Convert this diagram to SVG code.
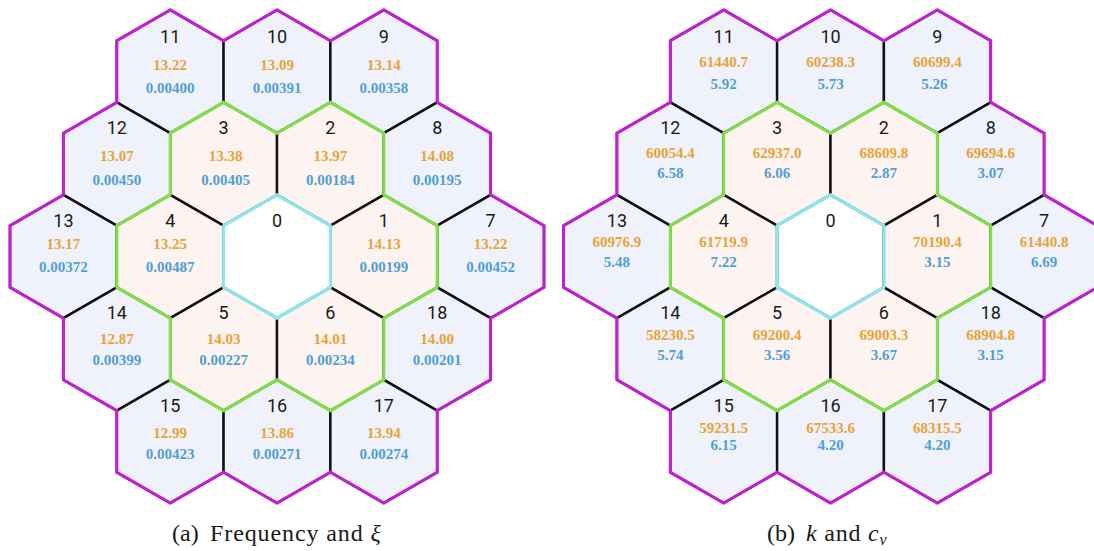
<svg xmlns="http://www.w3.org/2000/svg" xmlns:xlink="http://www.w3.org/1999/xlink" width="1094" height="551" viewBox="0 0 1094 551">
<style>
.outer{fill:#f0f2fb;stroke:#111;stroke-width:2.4}
.inner{fill:#fdf3f1;stroke:#111;stroke-width:2.4}
.center{fill:#ffffff;stroke:#111;stroke-width:2.4}
.num{font-family:Roboto,"Liberation Sans",sans-serif;font-size:18px;fill:#1a1a1a;text-anchor:middle}
.v1{font-family:"Liberation Serif",serif;font-weight:bold;font-size:15px;fill:#e8a236;text-anchor:middle}
.v2{font-family:"Liberation Serif",serif;font-weight:bold;font-size:15px;fill:#4f9fd6;text-anchor:middle}
.mag{fill:none;stroke:#c21fd3;stroke-width:3;stroke-linejoin:miter}
.grn{fill:none;stroke:#80e04a;stroke-width:3;stroke-linejoin:miter}
.cyn{fill:none;stroke:#8ae8ee;stroke-width:3;stroke-linejoin:miter}
.cap{font-family:"Liberation Serif",serif;font-size:24px;fill:#1a1a1a}
</style>
<defs>
<polygon id="hex" points="0,-61.66 53.4,-30.83 53.4,30.83 0,61.66 -53.4,30.83 -53.4,-30.83"/>
</defs>
<rect width="1094" height="551" fill="#ffffff"/>

<g id="panel-a">
<g id="a-hex11" transform="translate(170.2,71.5)"><use xlink:href="#hex" class="outer"/><text class="num" y="-29">11</text><text class="v1" y="-1.5">13.22</text><text class="v2" y="21">0.00400</text></g>
<g id="a-hex10" transform="translate(277,71.5)"><use xlink:href="#hex" class="outer"/><text class="num" y="-29">10</text><text class="v1" y="-1.5">13.09</text><text class="v2" y="21">0.00391</text></g>
<g id="a-hex9" transform="translate(383.8,71.5)"><use xlink:href="#hex" class="outer"/><text class="num" y="-29">9</text><text class="v1" y="-1.5">13.14</text><text class="v2" y="21">0.00358</text></g>
<g id="a-hex12" transform="translate(116.8,164)"><use xlink:href="#hex" class="outer"/><text class="num" y="-30.5">12</text><text class="v1" y="-3.5">13.07</text><text class="v2" y="20.5">0.00450</text></g>
<g id="a-hex3" transform="translate(223.6,164)"><use xlink:href="#hex" class="inner"/><text class="num" y="-30.5">3</text><text class="v1" y="-3.5" x="2">13.38</text><text class="v2" y="20.5" x="2">0.00405</text></g>
<g id="a-hex2" transform="translate(330.4,164)"><use xlink:href="#hex" class="inner"/><text class="num" y="-30.5">2</text><text class="v1" y="-3.5">13.97</text><text class="v2" y="20.5">0.00184</text></g>
<g id="a-hex8" transform="translate(437.2,164)"><use xlink:href="#hex" class="outer"/><text class="num" y="-30.5">8</text><text class="v1" y="-3.5">14.08</text><text class="v2" y="20.5">0.00195</text></g>
<g id="a-hex13" transform="translate(63.4,256.5)"><use xlink:href="#hex" class="outer"/><text class="num" y="-30">13</text><text class="v1" y="-8">13.17</text><text class="v2" y="15">0.00372</text></g>
<g id="a-hex4" transform="translate(170.2,256.5)"><use xlink:href="#hex" class="inner"/><text class="num" y="-30">4</text><text class="v1" y="-8">13.25</text><text class="v2" y="15">0.00487</text></g>
<g id="a-hex0" transform="translate(277,256.5)"><use xlink:href="#hex" class="center"/><text class="num" y="-30">0</text></g>
<g id="a-hex1" transform="translate(383.8,256.5)"><use xlink:href="#hex" class="inner"/><text class="num" y="-30">1</text><text class="v1" y="-8">14.13</text><text class="v2" y="15">0.00199</text></g>
<g id="a-hex7" transform="translate(490.6,256.5)"><use xlink:href="#hex" class="outer"/><text class="num" y="-30">7</text><text class="v1" y="-8">13.22</text><text class="v2" y="15">0.00452</text></g>
<g id="a-hex14" transform="translate(116.8,349)"><use xlink:href="#hex" class="outer"/><text class="num" y="-30">14</text><text class="v1" y="-5.5">12.87</text><text class="v2" y="16">0.00399</text></g>
<g id="a-hex5" transform="translate(223.6,349)"><use xlink:href="#hex" class="inner"/><text class="num" y="-30">5</text><text class="v1" y="-5.5">14.03</text><text class="v2" y="16">0.00227</text></g>
<g id="a-hex6" transform="translate(330.4,349)"><use xlink:href="#hex" class="inner"/><text class="num" y="-30">6</text><text class="v1" y="-5.5">14.01</text><text class="v2" y="16">0.00234</text></g>
<g id="a-hex18" transform="translate(437.2,349)"><use xlink:href="#hex" class="outer"/><text class="num" y="-30">18</text><text class="v1" y="-5.5">14.00</text><text class="v2" y="16">0.00201</text></g>
<g id="a-hex15" transform="translate(170.2,441.5)"><use xlink:href="#hex" class="outer"/><text class="num" y="-30">15</text><text class="v1" y="-4">12.99</text><text class="v2" y="17">0.00423</text></g>
<g id="a-hex16" transform="translate(277,441.5)"><use xlink:href="#hex" class="outer"/><text class="num" y="-30">16</text><text class="v1" y="-4">13.86</text><text class="v2" y="17">0.00271</text></g>
<g id="a-hex17" transform="translate(383.8,441.5)"><use xlink:href="#hex" class="outer"/><text class="num" y="-30">17</text><text class="v1" y="-4">13.94</text><text class="v2" y="17">0.00274</text></g>
</g>

<g id="panel-b">
<g id="b-hex11" transform="translate(723.7,71.5)"><use xlink:href="#hex" class="outer"/><text class="num" y="-29">11</text><text class="v1" y="-5">61440.7</text><text class="v2" y="17">5.92</text></g>
<g id="b-hex10" transform="translate(830.5,71.5)"><use xlink:href="#hex" class="outer"/><text class="num" y="-29">10</text><text class="v1" y="-5">60238.3</text><text class="v2" y="17">5.73</text></g>
<g id="b-hex9" transform="translate(937.3,71.5)"><use xlink:href="#hex" class="outer"/><text class="num" y="-29">9</text><text class="v1" y="-5">60699.4</text><text class="v2" y="17" x="-3">5.26</text></g>
<g id="b-hex12" transform="translate(670.3,164)"><use xlink:href="#hex" class="outer"/><text class="num" y="-30.5">12</text><text class="v1" y="-6.5">60054.4</text><text class="v2" y="13.5">6.58</text></g>
<g id="b-hex3" transform="translate(777.1,164)"><use xlink:href="#hex" class="inner"/><text class="num" y="-30.5">3</text><text class="v1" y="-6.5">62937.0</text><text class="v2" y="13.5">6.06</text></g>
<g id="b-hex2" transform="translate(883.9,164)"><use xlink:href="#hex" class="inner"/><text class="num" y="-30.5">2</text><text class="v1" y="-6.5">68609.8</text><text class="v2" y="13.5">2.87</text></g>
<g id="b-hex8" transform="translate(990.7,164)"><use xlink:href="#hex" class="outer"/><text class="num" y="-30.5">8</text><text class="v1" y="-6.5">69694.6</text><text class="v2" y="13.5">3.07</text></g>
<g id="b-hex13" transform="translate(616.9,256.5)"><use xlink:href="#hex" class="outer"/><text class="num" y="-30">13</text><text class="v1" y="-10">60976.9</text><text class="v2" y="10">5.48</text></g>
<g id="b-hex4" transform="translate(723.7,256.5)"><use xlink:href="#hex" class="inner"/><text class="num" y="-30">4</text><text class="v1" y="-10">61719.9</text><text class="v2" y="10">7.22</text></g>
<g id="b-hex0" transform="translate(830.5,256.5)"><use xlink:href="#hex" class="center"/><text class="num" y="-30">0</text></g>
<g id="b-hex1" transform="translate(937.3,256.5)"><use xlink:href="#hex" class="inner"/><text class="num" y="-30">1</text><text class="v1" y="-10">70190.4</text><text class="v2" y="10">3.15</text></g>
<g id="b-hex7" transform="translate(1044.1,256.5)"><use xlink:href="#hex" class="outer"/><text class="num" y="-30">7</text><text class="v1" y="-10">61440.8</text><text class="v2" y="10">6.69</text></g>
<g id="b-hex14" transform="translate(670.3,349)"><use xlink:href="#hex" class="outer"/><text class="num" y="-30">14</text><text class="v1" y="-9">58230.5</text><text class="v2" y="10.5">5.74</text></g>
<g id="b-hex5" transform="translate(777.1,349)"><use xlink:href="#hex" class="inner"/><text class="num" y="-30">5</text><text class="v1" y="-9">69200.4</text><text class="v2" y="10.5">3.56</text></g>
<g id="b-hex6" transform="translate(883.9,349)"><use xlink:href="#hex" class="inner"/><text class="num" y="-30">6</text><text class="v1" y="-9">69003.3</text><text class="v2" y="10.5">3.67</text></g>
<g id="b-hex18" transform="translate(990.7,349)"><use xlink:href="#hex" class="outer"/><text class="num" y="-30">18</text><text class="v1" y="-9">68904.8</text><text class="v2" y="10.5">3.15</text></g>
<g id="b-hex15" transform="translate(723.7,441.5)"><use xlink:href="#hex" class="outer"/><text class="num" y="-30">15</text><text class="v1" y="-9">59231.5</text><text class="v2" y="8.5">6.15</text></g>
<g id="b-hex16" transform="translate(830.5,441.5)"><use xlink:href="#hex" class="outer"/><text class="num" y="-30">16</text><text class="v1" y="-9">67533.6</text><text class="v2" y="8.5">4.20</text></g>
<g id="b-hex17" transform="translate(937.3,441.5)"><use xlink:href="#hex" class="outer"/><text class="num" y="-30">17</text><text class="v1" y="-9">68315.5</text><text class="v2" y="8.5">4.20</text></g>
</g>

<g id="connectors">
<polygon class="grn" points="223.6,102.35 277,133.18 330.4,102.35 383.8,133.18 383.8,194.84 437.2,225.67 437.2,287.33 383.8,318.16 383.8,379.82 330.4,410.65 277,379.82 223.6,410.65 170.2,379.82 170.2,318.16 116.8,287.33 116.8,225.67 170.2,194.84 170.2,133.18"/>
<polygon class="cyn" points="277,194.84 330.4,225.67 330.4,287.33 277,318.16 223.6,287.33 223.6,225.67"/>
<polygon class="mag" points="170.2,9.86 223.6,40.69 277,9.86 330.4,40.69 383.8,9.86 437.2,40.69 437.2,102.35 490.6,133.18 490.6,194.84 544,225.67 544,287.33 490.6,318.16 490.6,379.82 437.2,410.65 437.2,472.31 383.8,503.14 330.4,472.31 277,503.14 223.6,472.31 170.2,503.14 116.8,472.31 116.8,410.65 63.4,379.82 63.4,318.16 10,287.33 10,225.67 63.4,194.84 63.4,133.18 116.8,102.35 116.8,40.69"/>
<polygon class="grn" points="777.1,102.35 830.5,133.18 883.9,102.35 937.3,133.18 937.3,194.84 990.7,225.67 990.7,287.33 937.3,318.16 937.3,379.82 883.9,410.65 830.5,379.82 777.1,410.65 723.7,379.82 723.7,318.16 670.3,287.33 670.3,225.67 723.7,194.84 723.7,133.18"/>
<polygon class="cyn" points="830.5,194.84 883.9,225.67 883.9,287.33 830.5,318.16 777.1,287.33 777.1,225.67"/>
<polygon class="mag" points="723.7,9.86 777.1,40.69 830.5,9.86 883.9,40.69 937.3,9.86 990.7,40.69 990.7,102.35 1044.1,133.18 1044.1,194.84 1097.5,225.67 1097.5,287.33 1044.1,318.16 1044.1,379.82 990.7,410.65 990.7,472.31 937.3,503.14 883.9,472.31 830.5,503.14 777.1,472.31 723.7,503.14 670.3,472.31 670.3,410.65 616.9,379.82 616.9,318.16 563.5,287.33 563.5,225.67 616.9,194.84 616.9,133.18 670.3,102.35 670.3,40.69"/>
</g>

<g id="captions">
<text class="cap" x="172" y="541">(a)</text>
<text class="cap" x="210" y="541" letter-spacing="0.9">Frequency and <tspan font-style="italic">ξ</tspan></text>
<text class="cap" x="767" y="541">(b)</text>
<text class="cap" x="806" y="541" letter-spacing="0.8"><tspan font-style="italic">k</tspan> and <tspan font-style="italic">c</tspan><tspan font-style="italic" font-size="16" dy="4">v</tspan></text>
</g>
</svg>
